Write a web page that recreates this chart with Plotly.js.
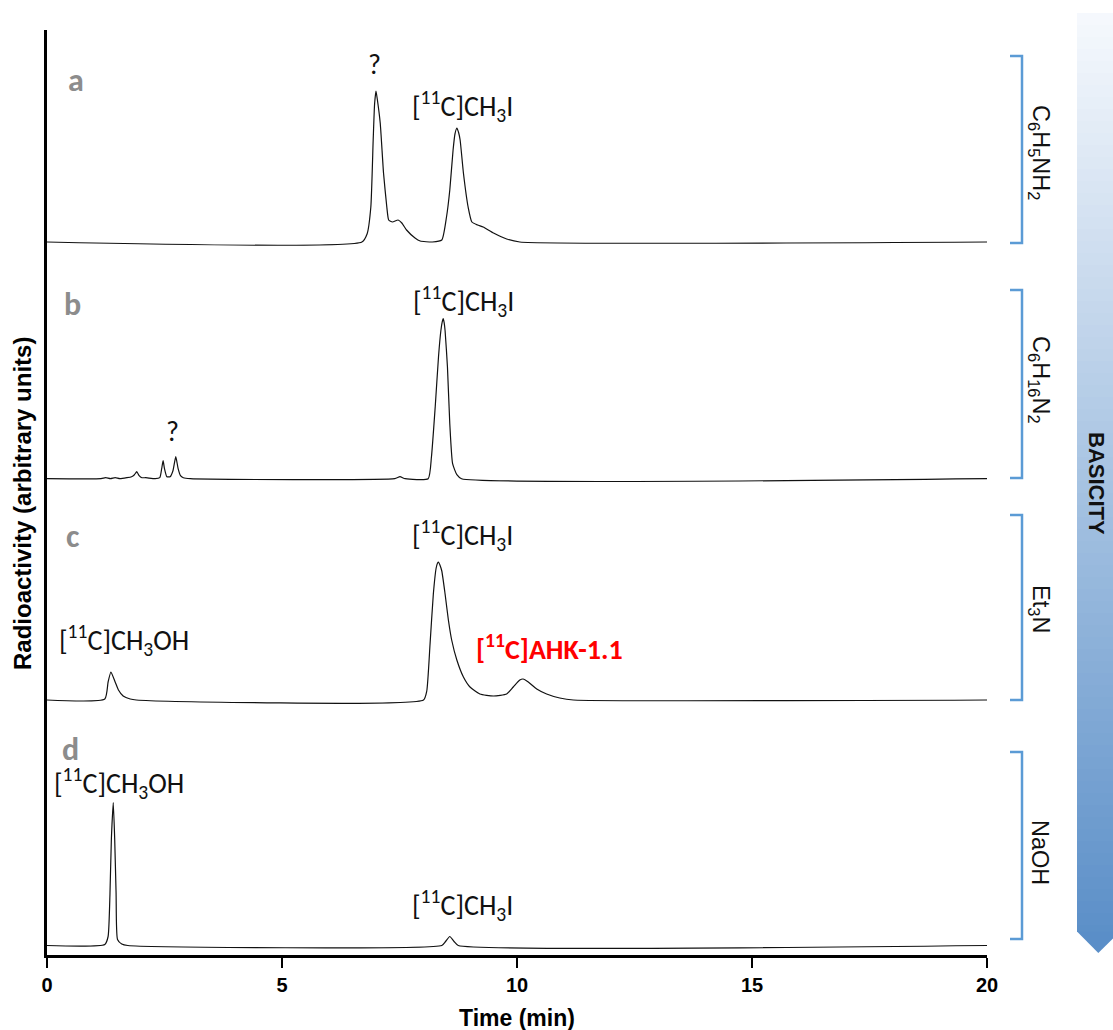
<!DOCTYPE html>
<html>
<head>
<meta charset="utf-8">
<script src="https://cdn.plot.ly/plotly-3.0.1.min.js"></script>
<style>html,body{margin:0;padding:0;background:#fff;}#chart{width:1113px;height:1030px;}</style>
</head>
<body>
<div id="chart"></div>
<script>
// ---- Data ----
// a: C6H5NH2
const timeA = [0, 6.70, 6.81, 6.89, 6.94, 6.97, 7.00, 7.03, 7.09, 7.16, 7.23, 7.27, 7.35, 7.47, 7.55, 7.65, 7.83, 7.94, 8.20, 8.40, 8.50, 8.57, 8.64, 8.68, 8.72, 8.76, 8.79, 8.86, 8.96, 9.04, 9.16, 9.28, 9.50, 9.78, 10.06, 20];
const signalA = [0, 0, 8, 35, 102, 138, 151, 142, 119, 69, 35, 22, 20, 22, 19, 12, 4, 1, 0, 2, 25, 52, 92, 108, 114, 109, 102, 69, 35, 20, 17, 15, 9, 3, 0, 0];
// b: C6H16N2
const timeB = [0, 1.15, 1.25, 1.35, 1.45, 1.55, 1.70, 1.80, 1.86, 1.91, 1.96, 2.02, 2.10, 2.30, 2.40, 2.44, 2.47, 2.50, 2.55, 2.62, 2.68, 2.74, 2.79, 2.84, 2.90, 3.05, 7.40, 7.51, 7.62, 8.11, 8.18, 8.26, 8.33, 8.38, 8.41, 8.43, 8.45, 8.47, 8.52, 8.57, 8.63, 8.72, 8.82, 20];
const signalB = [0, 0, 1, 0, 1, 0, 1, 2, 4, 7, 3, 1, 1, 0, 1, 10, 18, 10, 2, 2, 8, 22, 10, 3, 1, 0, 0, 2, 0, 0, 22, 72, 122, 148, 157, 160, 156, 148, 112, 55, 15, 4, 0, 0];
// c: Et3N
const timeC = [0, 1.23, 1.30, 1.36, 1.45, 1.52, 1.62, 1.77, 1.90, 8.01, 8.08, 8.15, 8.22, 8.28, 8.31, 8.33, 8.36, 8.40, 8.47, 8.54, 8.61, 8.72, 8.86, 9.00, 9.21, 9.50, 9.78, 9.92, 10.06, 10.13, 10.24, 10.42, 10.63, 10.91, 11.20, 20];
const signalC = [0, 1, 18, 28, 18, 10, 4, 1, 0, 0, 9, 56, 106, 132, 137, 138, 135, 129, 106, 80, 60, 40, 23, 13, 6, 4, 6, 13, 20, 21, 18, 11, 6, 2, 0, 0];
// d: NaOH
const timeD = [0, 1.23, 1.30, 1.34, 1.37, 1.41, 1.44, 1.47, 1.50, 1.59, 1.72, 8.40, 8.48, 8.57, 8.66, 8.75, 20];
const signalD = [0, 1, 9, 52, 107, 143, 107, 52, 6, 1.5, 0, 0, 4, 9, 4, 0, 0];

const panelLetters = ['a', 'b', 'c', 'd'];
const baseNames = ['C<sub>6</sub>H<sub>5</sub>NH<sub>2</sub>', 'C<sub>6</sub>H<sub>16</sub>N<sub>2</sub>', 'Et<sub>3</sub>N', 'NaOH'];
const xTickValues = [0, 5, 10, 15, 20];
const xTickLabels = ['0', '5', '10', '15', '20'];

// ---- Layout geometry (pixels of the 1113x1030 page) ----
const L = 47, R = 987, T = 30, B = 955;
const PX = px => (px - L) / (R - L);
const PY = py => (B - py) / (B - T);
const baselinesPx = [242, 478.7, 700, 945.5];
const yRange = b => [-(B - b), b - T];

const lineStyle = {color: '#111', width: 1.2, shape: 'spline', smoothing: 0.5};
const traces = [
  {x: timeA, y: signalA, yaxis: 'y', type: 'scatter', mode: 'lines', line: lineStyle, hoverinfo: 'skip'},
  {x: timeB, y: signalB, yaxis: 'y2', type: 'scatter', mode: 'lines', line: lineStyle, hoverinfo: 'skip'},
  {x: timeC, y: signalC, yaxis: 'y3', type: 'scatter', mode: 'lines', line: lineStyle, hoverinfo: 'skip'},
  {x: timeD, y: signalD, yaxis: 'y4', type: 'scatter', mode: 'lines', line: lineStyle, hoverinfo: 'skip'}
];

const ann = [];
const calib = "Carlito, Lato, 'Open Sans', sans-serif";
const arial = "'Liberation Sans', Arial, sans-serif";
function label(text, px, py, opts) {
  ann.push(Object.assign({text: text, x: PX(px), y: PY(py), xref: 'paper', yref: 'paper',
    showarrow: false, xanchor: 'center', yanchor: 'middle',
    font: {family: calib, size: 28, color: '#111'}}, opts || {}));
}
const CH3I = '[<sup>11</sup>C]CH<sub>3</sub>I';
const CH3OH = '[<sup>11</sup>C]CH<sub>3</sub>OH';
// panel letters
const letterPos = [[76, 80], [72, 305], [73, 536], [70, 749]];
panelLetters.forEach((l, i) => label(l, letterPos[i][0], letterPos[i][1],
  {font: {family: calib, size: 32, color: '#8c8c8c', weight: 'bold'}}));
// peak labels
label('?', 374, 65);
label(CH3I, 462, 106);
label(CH3I, 463, 301);
label('?', 172, 431);
label(CH3I, 462, 535);
label(CH3OH, 124, 640);
label('[<sup>11</sup>C]AHK-1.1', 549, 647, {font: {family: calib, size: 28, color: '#ff0000', weight: 'bold'}});
label(CH3OH, 119, 783);
label(CH3I, 462, 905);
// base names (rotated)
const baseNamePos = [152, 380, 609, 852];
baseNames.forEach((n, i) => label(n, 1040, baseNamePos[i],
  {textangle: 90, font: {family: arial, size: 23.5, color: '#111'}}));
// BASICITY
label('BASICITY', 1097, 483, {textangle: 90, font: {family: arial, size: 22, color: '#111', weight: 'bold'}});
// axis titles
label('Radioactivity (arbitrary units)', 22, 504, {textangle: -90, font: {family: arial, size: 24, color: '#000', weight: 'bold'}});
label('Time (min)', 517, 1018, {font: {family: arial, size: 23, color: '#000', weight: 'bold'}});

// ---- Shapes: brackets and gradient arrow ----
const shapes = [];
const bracketSpans = [[56, 243], [290, 478], [515, 700], [752, 939]];
const bc = '#5b9bd5';
bracketSpans.forEach(s => {
  const p = `M ${PX(1010)},${PY(s[0])} L ${PX(1022)},${PY(s[0])} L ${PX(1022)},${PY(s[1])} L ${PX(1010)},${PY(s[1])}`;
  shapes.push({type: 'path', xref: 'paper', yref: 'paper', path: p, line: {color: bc, width: 2.5}});
});
// arrow gradient bands
const arrTop = 13, bodyEnd = 932, tipY = 953, ax0 = 1077, ax1 = 1120, axm = 1098.3;
const c0 = [246, 249, 253], c1 = [88, 141, 199];
const col = f => 'rgb(' + c0.map((v, k) => Math.round(v + (c1[k] - v) * f)).join(',') + ')';
const step = 12;
for (let y = arrTop; y < bodyEnd; y += step) {
  const y2 = Math.min(y + step + 1, bodyEnd);
  shapes.push({type: 'rect', xref: 'paper', yref: 'paper', x0: PX(ax0), x1: PX(ax1), y0: PY(y), y1: PY(y2),
    fillcolor: col((y + step / 2 - arrTop) / (tipY - arrTop)), line: {width: 0}, layer: 'below'});
}
shapes.push({type: 'path', xref: 'paper', yref: 'paper',
  path: `M ${PX(ax0)},${PY(bodyEnd - 0.5)} L ${PX(ax1)},${PY(bodyEnd - 0.5)} L ${PX(axm)},${PY(tipY)} Z`,
  fillcolor: col(0.99), line: {width: 0}, layer: 'below'});

const layout = {
  width: 1113, height: 1030,
  margin: {l: L, r: 1113 - R, t: T, b: 1030 - B, pad: 0},
  paper_bgcolor: '#fff', plot_bgcolor: 'rgba(0,0,0,0)',
  showlegend: false,
  xaxis: {range: [0, 20], showline: true, linecolor: '#000', linewidth: 3, ticks: 'outside', ticklen: 10,
    tickwidth: 2, tickcolor: '#000', tickvals: xTickValues, ticktext: xTickLabels, showgrid: false, zeroline: false,
    tickfont: {family: arial, size: 20, color: '#000', weight: 'bold'}, fixedrange: true},
  yaxis: {range: yRange(baselinesPx[0]), showline: true, linecolor: '#000', linewidth: 3, ticks: '',
    showticklabels: false, showgrid: false, zeroline: false, fixedrange: true},
  yaxis2: {range: yRange(baselinesPx[1]), overlaying: 'y', visible: false, fixedrange: true},
  yaxis3: {range: yRange(baselinesPx[2]), overlaying: 'y', visible: false, fixedrange: true},
  yaxis4: {range: yRange(baselinesPx[3]), overlaying: 'y', visible: false, fixedrange: true},
  annotations: ann,
  shapes: shapes
};
Plotly.newPlot('chart', traces, layout, {displayModeBar: false, staticPlot: true});
</script>
</body>
</html>
